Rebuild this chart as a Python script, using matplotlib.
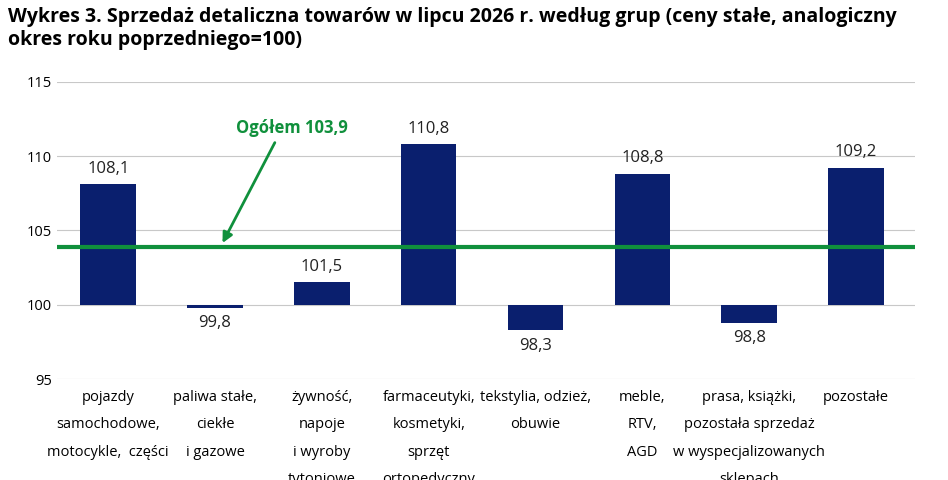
import matplotlib.pyplot as plt

plt.rcParams['font.family'] = ['Open Sans', 'DejaVu Sans']

categories = ['pojazdy\nsamochodowe,\nmotocykle,  części', 'paliwa stałe,\nciekłe\ni gazowe',
              'żywność,\nnapoje\ni wyroby\ntytoniowe', 'farmaceutyki,\nkosmetyki,\nsprzęt\nortopedyczny',
              'tekstylia, odzież,\nobuwie', 'meble,\nRTV,\nAGD',
              'prasa, książki,\npozostała sprzedaż\nw wyspecjalizowanych\nsklepach', 'pozostałe']
values = [108.1, 99.8, 101.5, 110.8, 98.3, 108.8, 98.8, 109.2]
total = 103.9
base = 100

fig = plt.figure(figsize=(9.48, 4.8), dpi=100)
ax = fig.add_axes([0.06, 0.21, 0.905, 0.62])
x = list(range(len(values)))
ax.bar(x, [v - base for v in values], bottom=base, width=0.52, color='#0a1f6e', zorder=2)
for xi, v in zip(x, values):
    off = 0.5 if v >= base else -0.5
    ax.text(xi, v + off, f'{v:.1f}'.replace('.', ','), ha='center',
            va='bottom' if v >= base else 'top', fontsize=12, color='#222222')
ax.axhline(total, color='#10903c', lw=3, zorder=3)
ax.text(1.72, 111.3, f'Ogółem {total:.1f}'.replace('.', ','), fontsize=12, fontweight='bold',
        color='#10903c', ha='center', va='bottom', zorder=4)
ax.annotate('', xy=(1.07, total + 0.25), xytext=(1.56, 110.9),
            arrowprops=dict(arrowstyle='-|>', color='#10903c', lw=2, shrinkA=0, shrinkB=0,
                            mutation_scale=15), zorder=4)
ax.set_ylim(95, 115)
ax.set_xlim(-0.48, 7.55)
ax.set_yticks([95, 100, 105, 110, 115])
ax.grid(axis='y', color='#c8c8c8', lw=0.8, zorder=0)
ax.set_xticks(x)
ax.set_xticklabels(categories, fontsize=7.5, linespacing=2.1, va='top')
ax.tick_params(axis='both', length=0, labelsize=10.5)
ax.tick_params(axis='x', pad=8)
for s in ax.spines.values():
    s.set_visible(False)
fig.text(0.008, 0.985, 'Wykres 3. Sprzedaż detaliczna towarów w lipcu 2026 r. według grup (ceny stałe, analogiczny\nokres roku poprzedniego=100)',
         fontsize=14, fontweight='bold', va='top', ha='left', linespacing=1.2)
fig.savefig('out.png')
